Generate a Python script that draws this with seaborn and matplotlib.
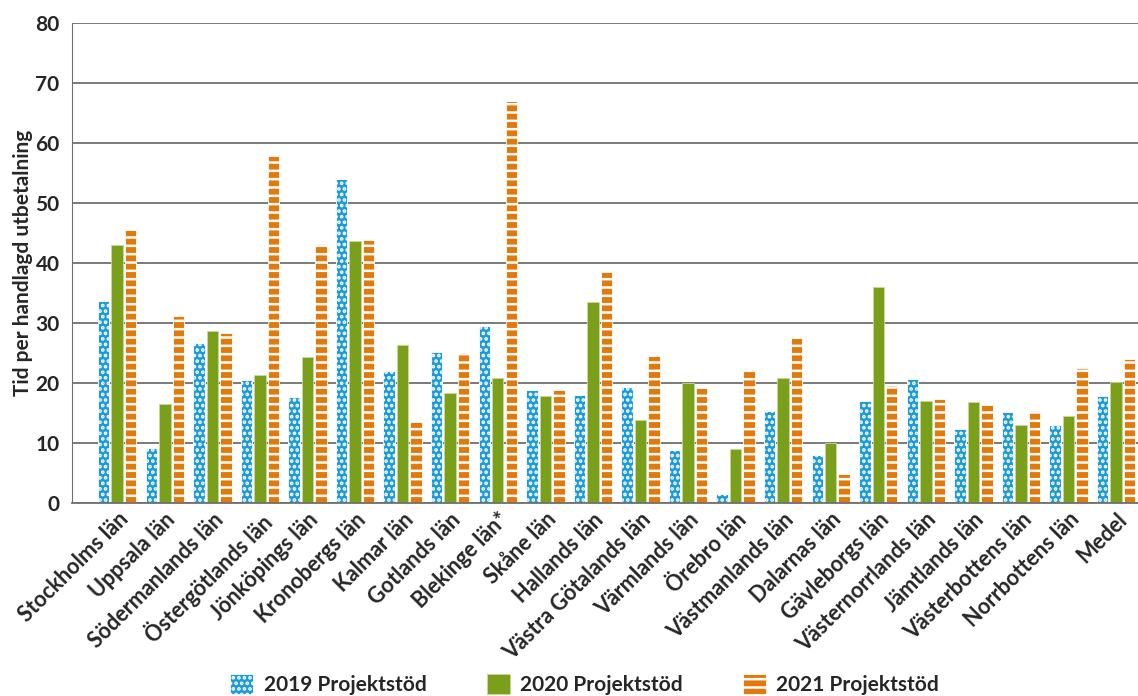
import matplotlib.pyplot as plt
import seaborn as sns
import pandas as pd

lan = ['Stockholms län', 'Uppsala län', 'Södermanlands län', 'Östergötlands län',
       'Jönköpings län', 'Kronobergs län', 'Kalmar län', 'Gotlands län',
       'Blekinge län*', 'Skåne län', 'Hallands län', 'Västra Götalands län',
       'Värmlands län', 'Örebro län', 'Västmanlands län', 'Dalarnas län',
       'Gävleborgs län', 'Västernorrlands län', 'Jämtlands län',
       'Västerbottens län', 'Norrbottens län', 'Medel']
v2019 = [33.7, 9.2, 26.7, 20.5, 17.7, 54.0, 22.0, 25.2, 29.5, 18.8, 18.0, 19.4,
         8.8, 1.6, 15.4, 8.0, 17.0, 20.7, 12.4, 15.2, 13.1, 17.8]
v2020 = [43.0, 16.5, 28.7, 21.3, 24.3, 43.7, 26.3, 18.3, 20.8, 17.8, 33.6, 13.8,
         20.0, 9.0, 20.8, 10.0, 36.0, 17.0, 16.8, 13.1, 14.5, 20.2]
v2021 = [45.5, 31.2, 28.3, 57.8, 43.2, 43.8, 13.5, 25.0, 67.0, 18.8, 38.5, 24.5,
         19.2, 22.3, 27.5, 4.8, 19.7, 17.4, 16.4, 15.3, 22.5, 24.0]
serier = ['2019 Projektstöd', '2020 Projektstöd', '2021 Projektstöd']

df = pd.DataFrame({'lan': lan * 3,
                   'serie': [s for s in serier for _ in lan],
                   'tid': v2019 + v2020 + v2021})

sns.set_style('white')
plt.rcParams['font.family'] = ['Lato', 'DejaVu Sans']
plt.rcParams['hatch.linewidth'] = 1.8

farger = ['#1e9bd7', '#7a9f1a', '#e2790c']
hatches = ['...', '', '--']

fig = plt.figure(figsize=(11.38, 6.96), dpi=100)
ax = fig.add_axes([0.0633, 0.277, 0.9367, 0.690])

sns.barplot(data=df, x='lan', y='tid', hue='serie', palette=farger,
            saturation=1, width=0.85, gap=0.15, ax=ax, legend=False)

for cont, h in zip(ax.containers, hatches):
    for bar in cont:
        bar.set_hatch(h)
        bar.set_edgecolor('white' if h else '#c8d89a')
        bar.set_linewidth(0.6)

ax.set_ylim(0, 80)
ax.set_xlim(-0.95, len(lan) - 0.54)
ax.set_yticks(range(0, 81, 10))
ax.yaxis.grid(True, color='#707070', linewidth=1.3)
ax.set_axisbelow(True)
for s in ['top', 'right']:
    ax.spines[s].set_visible(False)
ax.spines['left'].set_color('#707070')
ax.spines['bottom'].set_color('#707070')
ax.spines['bottom'].set_linewidth(1.3)

ax.set_xlabel('')
ax.set_ylabel('Tid per handlagd utbetalning', fontsize=15, fontweight='bold',
              labelpad=2)
ax.tick_params(axis='y', labelsize=15, length=0, pad=9)
ax.tick_params(axis='x', length=0, pad=4)
for lbl in ax.get_yticklabels():
    lbl.set_fontweight('bold')
ax.set_xticks(range(len(lan)))
ax.set_xticklabels(lan, rotation=45, ha='right', rotation_mode='anchor',
                   fontsize=15.5, fontweight='bold')

handles = [c[0] for c in ax.containers]
ax.legend(handles, serier, loc='center', bbox_to_anchor=(0.481, -0.377), ncol=3,
          frameon=False, handlelength=1.1, handleheight=1.15, handletextpad=0.5,
          columnspacing=2.9, prop={'weight': 'bold', 'size': 15})

fig.savefig('out.png', dpi=100)
